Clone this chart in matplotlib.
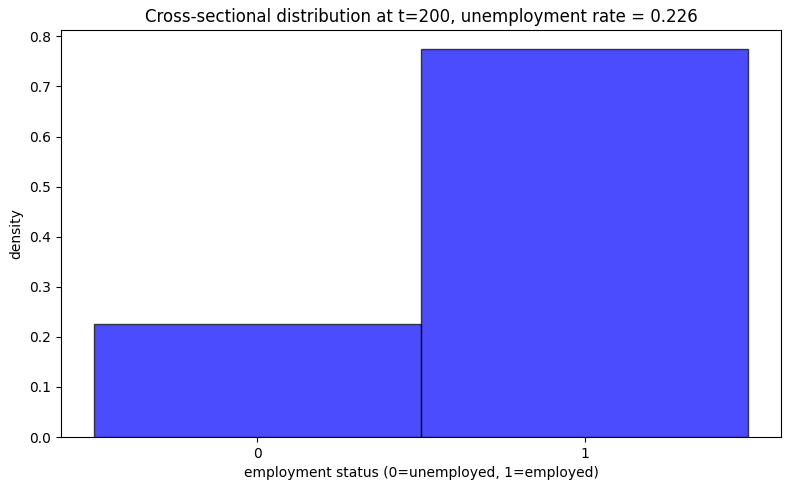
import numpy as np
import matplotlib
matplotlib.use("Agg")
import matplotlib.pyplot as plt

# employment status categories and their cross-sectional density at t=200
status = [0, 1]
density = [0.226, 0.774]
unemployment_rate = 0.226
t = 200

fig, ax = plt.subplots(figsize=(7.9, 4.9), dpi=100)
ax.bar(status, density, width=1.0, color='blue', alpha=0.7, edgecolor='black')
ax.set_xticks(status)
ax.set_xlabel("employment status (0=unemployed, 1=employed)")
ax.set_ylabel("density")
ax.set_title(f"Cross-sectional distribution at t={t}, unemployment rate = {unemployment_rate:.3f}")
fig.subplots_adjust(left=61 / 790, right=781 / 790, top=1 - 30 / 490, bottom=1 - 437 / 490)
fig.savefig("out.png")
